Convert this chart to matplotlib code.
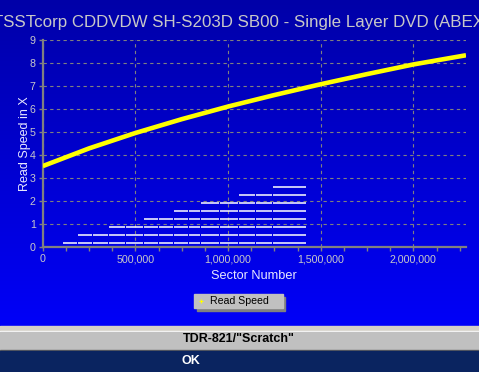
import matplotlib
matplotlib.use("Agg")
import matplotlib.pyplot as plt
import numpy as np
from matplotlib.patches import Rectangle
from matplotlib.lines import Line2D
from matplotlib.ticker import FuncFormatter, MultipleLocator

plt.rcParams['font.family'] = ['Liberation Sans', 'DejaVu Sans']

# read speed curve (sector, X)
sectors = [0, 250e3, 500e3, 750e3, 1000e3, 1250e3, 1500e3, 1750e3, 2000e3, 2284e3]
speed = [3.53, 4.30, 4.97, 5.57, 6.12, 6.62, 7.09, 7.53, 7.95, 8.35]

# white scratch test bars
seg_edges = [104e3, 189e3, 270e3, 357e3, 447e3, 544e3, 625e3, 707e3, 787e3,
             852e3, 954e3, 1057e3, 1148e3, 1240e3, 1421e3]
bar_levels = [0.17, 0.52, 0.87, 1.22, 1.57, 1.91, 2.26, 2.61]
bar_start = [0, 1, 3, 5, 7, 9, 11, 13]

title = "TSSTcorp CDDVDW SH-S203D SB00 - Single Layer DVD (ABEX)"
footer = 'TDR-821/"Scratch"'

W, H = 479, 372
fig = plt.figure(figsize=(W / 100, H / 100), dpi=100)

def fx(px):
    return px / W

def fy(py):
    return 1 - py / H

# gradient background for the blue area
bg = fig.add_axes([0, fy(326), 1, 326 / H], zorder=0)
grad = np.linspace(0, 1, 256).reshape(-1, 1)
top = np.array([0, 0, 0xA8]) / 255
bot = np.array([0, 0, 0xF8]) / 255
img = top + grad[..., None] * (bot - top)
bg.imshow(img, aspect='auto', extent=[0, 1, 0, 1])
bg.set_axis_off()

# bottom bands
fig.patches.append(Rectangle((0, fy(331)), 1, 5 / H, transform=fig.transFigure, color='#d4d0c8', zorder=1))
fig.patches.append(Rectangle((0, fy(331.5)), 1, 1 / H, transform=fig.transFigure, color='#ffffff', zorder=1))
fig.patches.append(Rectangle((0, fy(349.7)), 1, 18.2 / H, transform=fig.transFigure, color='#c0c0c0', zorder=1))
fig.patches.append(Rectangle((0, fy(351)), 1, 1.3 / H, transform=fig.transFigure, color='#606060', zorder=1))
fig.patches.append(Rectangle((0, 0), 1, 21 / H, transform=fig.transFigure, color='#0a2460', zorder=1))
fig.text(fx(239), fy(339.5), footer, ha='center', va='center', fontsize=9, fontweight='bold', color='black')
fig.text(fx(191), fy(360.5), "OK", ha='center', va='center', fontsize=9, fontweight='bold', color='white')

# legend box
fig.patches.append(Rectangle((fx(197), fy(311.3)), 88 / W, 14 / H, transform=fig.transFigure, color='#808080', zorder=2))
fig.patches.append(Rectangle((fx(194), fy(308.3)), 88.7 / W, 14 / H, transform=fig.transFigure, color='#c0c0c0', zorder=3))
fig.add_artist(Line2D([fx(201.3)], [fy(301)], marker='+', color='yellow', markersize=3, mew=0.8, transform=fig.transFigure, zorder=4))
fig.text(fx(210.5), fy(301.5), "Read Speed", ha='left', va='center', fontsize=7.6, color='black', zorder=4)

# title is wider than the window, like the original
fig.text(fx(241), fy(22), title, ha='center', va='center', fontsize=12.2, color='#c8c8c8')

ax = fig.add_axes([fx(42.7), fy(247.3), (466 - 42.7) / W, (247.3 - 40.3) / H], zorder=2)
ax.set_facecolor('none')
ax.set_xlim(0, 2284e3)
ax.set_ylim(0, 9)

ax.plot(sectors, speed, color='yellow', lw=3.3, solid_capstyle='butt', zorder=4)
gap = 3000
for lvl, st in zip(bar_levels, bar_start):
    for i in range(st, len(seg_edges) - 1):
        ax.hlines(lvl, seg_edges[i] + gap, seg_edges[i + 1] - gap, color='white', lw=1.1, zorder=3)

for s in ['top', 'right']:
    ax.spines[s].set_visible(False)
for s in ['left', 'bottom']:
    ax.spines[s].set_color('#808080')
    ax.spines[s].set_linewidth(1.6)

ax.xaxis.set_major_locator(MultipleLocator(500000))
ax.xaxis.set_minor_locator(MultipleLocator(125000))
ax.yaxis.set_major_locator(MultipleLocator(1))
ax.xaxis.set_major_formatter(FuncFormatter(lambda v, p: f"{int(v):,}"))
ax.tick_params(which='both', direction='out', length=3, width=1, color='#808080',
               labelcolor='#c8c8c8', labelsize=7.7, pad=2)

ax.grid(True, which='major', color='#808080', lw=0.8, linestyle=(0, (3, 3)), zorder=1)
ax.set_axisbelow(True)

ax.set_xlabel("Sector Number", fontsize=9.2, color='#e8e8ff', labelpad=4)
ax.set_ylabel("Read Speed in X", fontsize=9, color='#e8e8ff', labelpad=-1)

fig.savefig("out.png", dpi=100)
